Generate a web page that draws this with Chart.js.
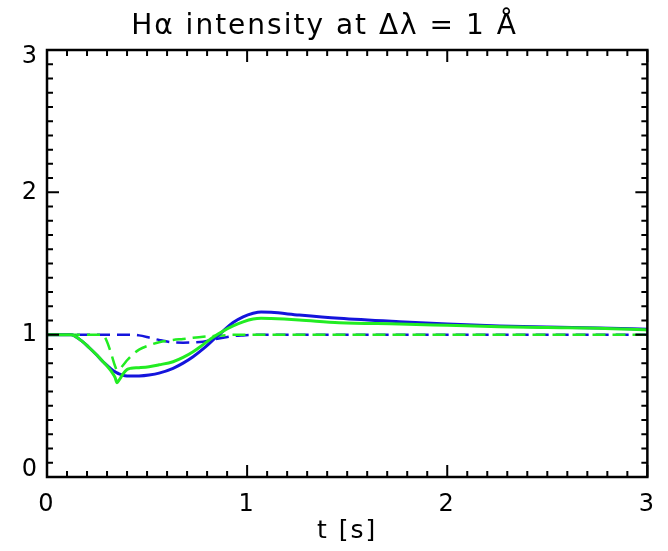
<!DOCTYPE html>
<html>
<head>
<meta charset="utf-8">
<script src="https://cdn.jsdelivr.net/npm/chart.js@4/dist/chart.umd.min.js"></script>
<style>
  html, body { margin: 0; padding: 0; background: #fff; }
  #wrap { width: 668px; height: 551px; }
</style>
</head>
<body>
<div id="wrap"><canvas id="c" width="668" height="551"></canvas></div>
<script>
/* ── Hα intensity curves ── */
const times = [0, 0.05, 0.12, 0.17, 0.21, 0.25, 0.28, 0.30, 0.32, 0.34, 0.35, 0.36, 0.38, 0.40, 0.42,
               0.46, 0.51, 0.56, 0.63, 0.68, 0.73, 0.78, 0.83, 0.88, 0.93, 0.98, 1.03, 1.07, 1.12,
               1.26, 1.46, 1.76, 2.0, 2.26, 2.5, 2.76, 3.0];

const blueSolid   = [1, 1, 1.0, 0.96, 0.91, 0.855, 0.81, 0.785, 0.76, 0.74, 0.732, 0.725, 0.715, 0.71, 0.709,
                     0.71, 0.717, 0.73, 0.764, 0.80, 0.845, 0.90, 0.963, 1.025, 1.085, 1.125, 1.15, 1.16, 1.157,
                     1.138, 1.115, 1.091, 1.075, 1.061, 1.053, 1.047, 1.038];
const greenSolid  = [1, 1, 1.0, 0.96, 0.91, 0.855, 0.81, 0.78, 0.745, 0.70, 0.663, 0.68, 0.724, 0.755, 0.764,
                     0.768, 0.775, 0.788, 0.81, 0.84, 0.88, 0.93, 0.982, 1.025, 1.061, 1.09, 1.11, 1.115, 1.113,
                     1.103, 1.084, 1.075, 1.066, 1.056, 1.05, 1.045, 1.033];
const blueDashed  = [1, 1, 1, 1, 1, 1, 1, 1, 1, 1, 1, 1, 1, 1, 1,
                     0.995, 0.98, 0.963, 0.946, 0.944, 0.945, 0.95, 0.965, 0.978, 0.99, 0.995, 0.998, 1, 1,
                     1, 1, 1, 1, 1, 1, 1, 1];
const greenDashed = [1, 1, 1, 1, 1, 1, 1, 0.95, 0.87, 0.78, 0.752, 0.755, 0.785, 0.82, 0.85,
                     0.895, 0.925, 0.947, 0.963, 0.97, 0.978, 0.985, 0.99, 0.995, 1, 1, 1, 1, 1,
                     1, 1, 1, 1, 1, 1, 1, 1];

const BLUE  = '#1414dc';
const GREEN = '#22ec22';
const FONT  = 'DejaVu Sans';

const pts = arr => times.map((t, i) => ({ x: t, y: arr[i] }));
const isMajor = v => Math.abs(v - Math.round(v)) < 1e-6;

// wider letter spacing, closer to the IDL vector font
const wideText = {
  id: 'wideText',
  beforeDraw(chart) { chart.ctx.letterSpacing = '2px'; },
  afterDraw(chart)  { chart.ctx.letterSpacing = '0px'; },
};

// IDL-style box: frame plus inward ticks on all four sides
const frameTicks = {
  id: 'frameTicks',
  afterDatasetsDraw(chart) {
    const { ctx, chartArea: a, scales } = chart;
    ctx.save();
    ctx.strokeStyle = '#000';
    ctx.lineWidth = 2;
    ctx.beginPath();
    scales.x.ticks.forEach(t => {
      const px = scales.x.getPixelForValue(t.value);
      const len = isMajor(t.value) ? 12 : 6;
      ctx.moveTo(px, a.bottom); ctx.lineTo(px, a.bottom - len);
      ctx.moveTo(px, a.top);    ctx.lineTo(px, a.top + len);
    });
    scales.y.ticks.forEach(t => {
      const py = scales.y.getPixelForValue(t.value);
      const len = isMajor(t.value) ? 12 : 6;
      ctx.moveTo(a.left, py);  ctx.lineTo(a.left + len, py);
      ctx.moveTo(a.right, py); ctx.lineTo(a.right - len, py);
    });
    ctx.stroke();
    ctx.lineWidth = 2.5;
    ctx.strokeRect(a.left, a.top, a.right - a.left, a.bottom - a.top);
    ctx.restore();
  }
};

new Chart(document.getElementById('c'), {
  type: 'line',
  data: { datasets: [
    { data: pts(greenSolid),  borderColor: GREEN, borderWidth: 3 },
    { data: pts(blueSolid),   borderColor: BLUE,  borderWidth: 3 },
    { data: pts(greenDashed), borderColor: GREEN, borderWidth: 2.5, borderDash: [13, 7] },
    { data: pts(blueDashed),  borderColor: BLUE,  borderWidth: 2.5, borderDash: [13, 7], borderDashOffset: 10 },
  ]},
  options: {
    responsive: false,
    animation: false,
    elements: { point: { radius: 0 }, line: { cubicInterpolationMode: 'monotone' } },
    layout: { padding: { top: 0, right: 19, bottom: 0, left: 0 } },
    plugins: {
      legend: { display: false },
      tooltip: { enabled: false },
      title: {
        display: true,
        text: 'Hα intensity at Δλ = 1 Å',
        color: '#000',
        font: { family: FONT, size: 28, weight: 'normal' },
        padding: { top: 10, bottom: 6.4 },
      },
    },
    scales: {
      x: {
        type: 'linear', min: 0, max: 3,
        afterFit: s => { s.height = 74; },
        grid: { display: false, drawTicks: false },
        border: { display: false },
        ticks: {
          stepSize: 0.1, autoSkip: false, maxRotation: 0, padding: 13,
          color: '#000', font: { family: FONT, size: 24 },
          callback: v => isMajor(v) ? String(Math.round(v)) : '',
        },
        title: {
          display: true, text: 't [s]', color: '#000',
          font: { family: FONT, size: 25 }, padding: { top: 5, bottom: 5 },
        },
      },
      y: {
        type: 'linear', min: 0, max: 3,
        afterFit: s => { s.width = 47; },
        grid: { display: false, drawTicks: false },
        border: { display: false },
        ticks: {
          stepSize: 0.1, autoSkip: false, padding: 8,
          color: '#000', font: { family: FONT, size: 24, lineHeight: 0.6 },
          // end labels nudged inward like the original
          callback: v => {
            if (!isMajor(v)) return '';
            const n = Math.round(v);
            if (n === 3) return ['', '3'];
            if (n === 0) return ['0', ''];
            return String(n);
          },
        },
      },
    },
  },
  plugins: [wideText, frameTicks],
});
</script>
</body>
</html>
